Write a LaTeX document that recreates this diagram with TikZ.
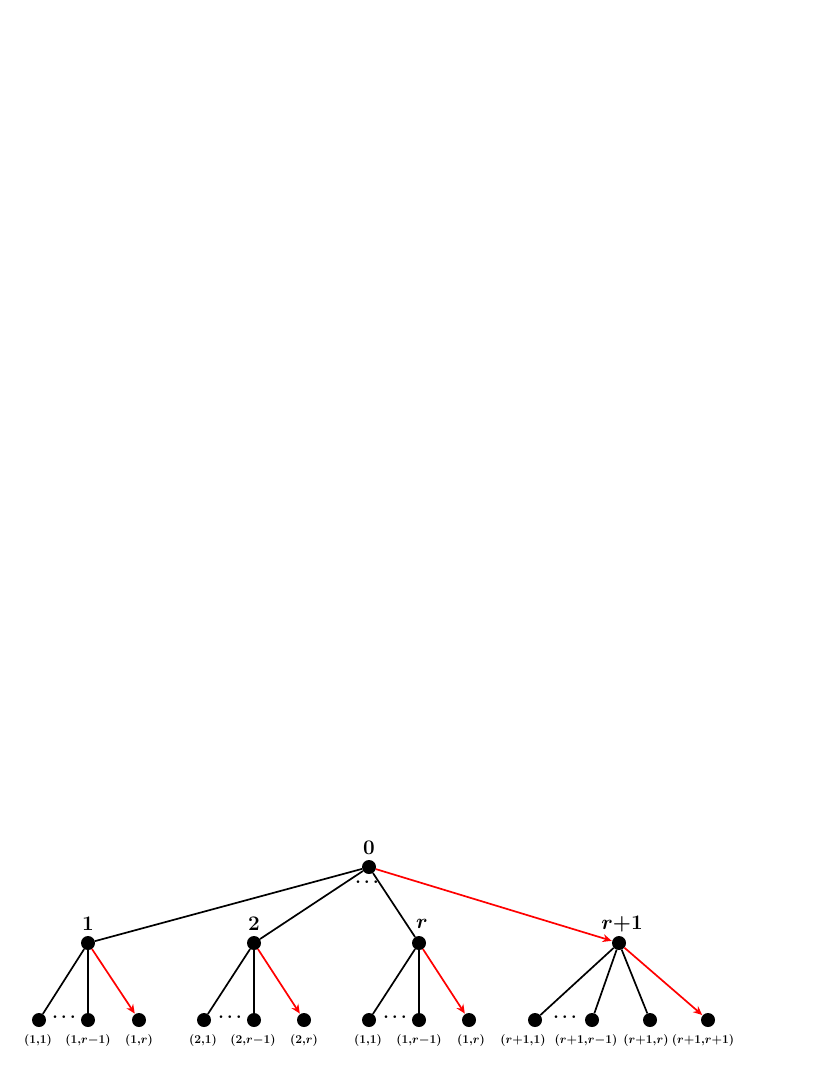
\documentclass[tikz,border=0pt]{standalone}
\usetikzlibrary{arrows.meta}
\begin{document}
\begin{tikzpicture}[x=1pt,y=-1pt,
  dot/.style={circle,fill=black,inner sep=0pt,minimum size=14pt},
  edge/.style={line width=1.7pt,black},
  redge/.style={line width=1.7pt,red,-{Stealth[length=9pt,width=8pt]},shorten >=0.5pt},
  toplab/.style={font=\fontsize{20}{22}\selectfont\boldmath},
  botlab/.style={font=\fontsize{13}{15}\selectfont\boldmath},
  dotsl/.style={font=\fontsize{16}{18}\selectfont\boldmath}]
\useasboundingbox (0,0) rectangle (830,1075);
% root
\node[dot] (n0) at (369,867) {};
\node[toplab] (l0) at (369,848) {$0$};
\node[dotsl] (d0) at (367,882) {$\cdots$};
% level 1
\node[dot] (n1) at (88,943) {};
\node[dot] (n2) at (254,943) {};
\node[dot] (nr) at (419,943) {};
\node[dot] (nr1) at (619,943) {};
\node[toplab] (l1) at (88,924) {$1$};
\node[toplab] (l2) at (254,924) {$2$};
\node[toplab] (lr) at (422,924) {$r$};
\node[toplab] (lr1) at (622,924) {$r{+}1$};
% leaves
\node[dot] (a1) at (39,1020) {};
\node[dot] (a2) at (88,1020) {};
\node[dot] (a3) at (139,1020) {};
\node[dot] (b1) at (204,1020) {};
\node[dot] (b2) at (254,1020) {};
\node[dot] (b3) at (304,1020) {};
\node[dot] (c1) at (369,1020) {};
\node[dot] (c2) at (419,1020) {};
\node[dot] (c3) at (469,1020) {};
\node[dot] (e1) at (535,1020) {};
\node[dot] (e2) at (592,1020) {};
\node[dot] (e3) at (650,1020) {};
\node[dot] (e4) at (708,1020) {};
% leaf dots
\node[dotsl] (da) at (64,1017) {$\cdots$};
\node[dotsl] (db) at (230,1017) {$\cdots$};
\node[dotsl] (dc) at (395,1017) {$\cdots$};
\node[dotsl] (de) at (565,1017) {$\cdots$};
% leaf labels
\node[botlab] at (38,1040) {$(1{,}1)$};
\node[botlab] at (88,1040) {$(1{,}r{-}1)$};
\node[botlab] at (139,1040) {$(1{,}r)$};
\node[botlab] at (203,1040) {$(2{,}1)$};
\node[botlab] at (253,1040) {$(2{,}r{-}1)$};
\node[botlab] at (304,1040) {$(2{,}r)$};
\node[botlab] at (368,1040) {$(1{,}1)$};
\node[botlab] at (419,1040) {$(1{,}r{-}1)$};
\node[botlab] at (471,1040) {$(1{,}r)$};
\node[botlab] at (523,1040) {$(r{+}1{,}1)$};
\node[botlab] at (586,1040) {$(r{+}1{,}r{-}1)$};
\node[botlab] at (646,1040) {$(r{+}1{,}r)$};
\node[botlab] at (703,1040) {$(r{+}1{,}r{+}1)$};
% edges
\draw[edge] (n0) -- (n1);
\draw[edge] (n0) -- (n2);
\draw[edge] (n0) -- (nr);
\draw[redge] (n0) -- (nr1);
\draw[edge] (n1) -- (a1);
\draw[edge] (n1) -- (a2);
\draw[redge] (n1) -- (a3);
\draw[edge] (n2) -- (b1);
\draw[edge] (n2) -- (b2);
\draw[redge] (n2) -- (b3);
\draw[edge] (nr) -- (c1);
\draw[edge] (nr) -- (c2);
\draw[redge] (nr) -- (c3);
\draw[edge] (nr1) -- (e1);
\draw[edge] (nr1) -- (e2);
\draw[edge] (nr1) -- (e3);
\draw[redge] (nr1) -- (e4);
\end{tikzpicture}
\end{document}
